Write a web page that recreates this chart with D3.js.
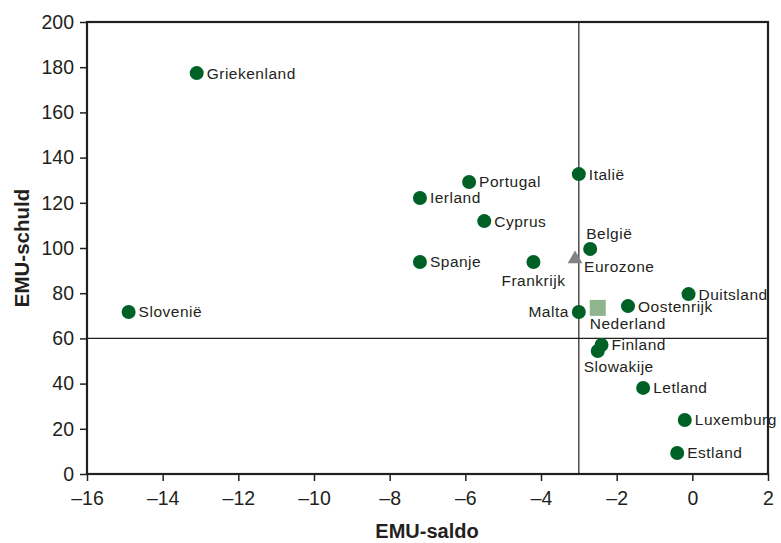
<!DOCTYPE html>
<html>
<head>
<meta charset="utf-8">
<script src="https://cdn.jsdelivr.net/npm/d3@7"></script>
<style>
  body { margin: 0; background: #fff; }
  text { font-family: "Liberation Sans", Arial, sans-serif; fill: #231f20; }
</style>
</head>
<body>
<div id="chart"></div>
<script>
// landen: EMU-saldo (x) vs EMU-schuld (y)
let countries = ["Griekenland", "Slovenië", "Ierland", "Portugal", "Cyprus", "Spanje", "Frankrijk",
  "Italië", "België", "Malta", "Oostenrijk", "Duitsland", "Finland", "Slowakije", "Letland", "Luxemburg", "Estland"];
let saldo = [-13.1, -14.9, -7.2, -5.9, -5.5, -7.2, -4.2, -3.0, -2.7, -3.0, -1.7, -0.1, -2.4, -2.5, -1.3, -0.2, -0.4];
let schuld = [177.4, 71.7, 122.1, 129.2, 111.9, 93.8, 93.8, 132.7, 99.6, 71.7, 74.3, 79.6, 57.1, 54.4, 38.1, 23.9, 9.3];

let eurozone = { name: "Eurozone", saldo: -3.1, schuld: 95.1 };
let nederland = { name: "Nederland", saldo: -2.5, schuld: 73.5 };

let refSaldo = -3;
let refSchuld = 60;

let xTicks = [-16, -14, -12, -10, -8, -6, -4, -2, 0, 2];
let yTicks = [0, 20, 40, 60, 80, 100, 120, 140, 160, 180, 200];

// label placement: [dx, dy, anchor]
let labelPos = {
  "Frankrijk": [0, 19, "middle"],
  "België": [-4, -15, "start"],
  "Malta": [-10, 0, "end"],
  "Slowakije": [-14, 16, "start"],
  "Eurozone": [9, 8, "start"],
  "Nederland": [-8, 16, "start"]
};

let width = 781, height = 543;
let margin = { top: 22, right: 13, bottom: 69, left: 87 };

let x = d3.scaleLinear().domain([-16, 2]).range([margin.left, width - margin.right]);
let y = d3.scaleLinear().domain([0, 200]).range([height - margin.bottom, margin.top]);

const svg = d3.select("#chart").append("svg")
  .attr("width", width)
  .attr("height", height);

// reference lines
svg.append("line")
  .attr("x1", x(refSaldo)).attr("x2", x(refSaldo))
  .attr("y1", y(0)).attr("y2", y(200))
  .attr("stroke", "#231f20").attr("stroke-width", 1.2);
svg.append("line")
  .attr("x1", x(-16)).attr("x2", x(2))
  .attr("y1", y(refSchuld)).attr("y2", y(refSchuld))
  .attr("stroke", "#231f20").attr("stroke-width", 1.2);

// axes
let axisX = d3.axisBottom(x).tickValues(xTicks).tickSize(7).tickPadding(6)
  .tickFormat(d => d < 0 ? "\u2013" + (-d) : d);
let axisY = d3.axisLeft(y).tickValues(yTicks).tickSize(7).tickPadding(6);

let gx = svg.append("g").attr("transform", `translate(0 ${y(0)})`).call(axisX);
let gy = svg.append("g").attr("transform", `translate(${x(-16)} 0)`).call(axisY);
[gx, gy].forEach(g => {
  g.select(".domain").remove();
  g.selectAll(".tick line").attr("stroke", "#231f20").attr("stroke-width", 1.5);
  g.selectAll(".tick text").style("font-size", "19.5px").attr("fill", "#231f20");
});
gx.selectAll(".tick text").attr("dy", "0.9em");

// frame
svg.append("rect")
  .attr("x", x(-16)).attr("y", y(200))
  .attr("width", x(2) - x(-16)).attr("height", y(0) - y(200))
  .attr("fill", "none").attr("stroke", "#231f20").attr("stroke-width", 2.2);

// axis titles
svg.append("text")
  .attr("x", 427).attr("y", 538)
  .attr("text-anchor", "middle")
  .style("font-size", "20px").style("font-weight", "bold")
  .text("EMU-saldo");
svg.append("text")
  .attr("transform", `translate(29 248) rotate(-90)`)
  .attr("text-anchor", "middle")
  .style("font-size", "20.5px").style("font-weight", "bold")
  .text("EMU-schuld");

let data = countries.map((c, i) => ({ name: c, saldo: saldo[i], schuld: schuld[i] }));

// eurozone triangle
svg.append("path")
  .attr("d", d3.symbol().type(d3.symbolTriangle).size(95)())
  .attr("transform", `translate(${x(eurozone.saldo)} ${y(eurozone.schuld)})`)
  .attr("fill", "#808285");

// nederland square
svg.append("rect")
  .attr("x", x(nederland.saldo) - 8).attr("y", y(nederland.schuld) - 8)
  .attr("width", 16).attr("height", 16)
  .attr("fill", "#8fb58f");

svg.append("g")
  .selectAll("circle")
  .data(data)
  .join("circle")
  .attr("cx", d => x(d.saldo))
  .attr("cy", d => y(d.schuld))
  .attr("r", 7)
  .attr("fill", "#006127");

let labels = data.concat([eurozone, nederland]);
svg.append("g")
  .selectAll("text")
  .data(labels)
  .join("text")
  .attr("x", d => x(d.saldo) + (labelPos[d.name] ? labelPos[d.name][0] : 10))
  .attr("y", d => y(d.schuld) + (labelPos[d.name] ? labelPos[d.name][1] : 0))
  .attr("dy", "0.35em")
  .attr("text-anchor", d => labelPos[d.name] ? labelPos[d.name][2] : "start")
  .style("font-size", "15.5px")
  .style("letter-spacing", "0.5px")
  .text(d => d.name);
</script>
</body>
</html>
